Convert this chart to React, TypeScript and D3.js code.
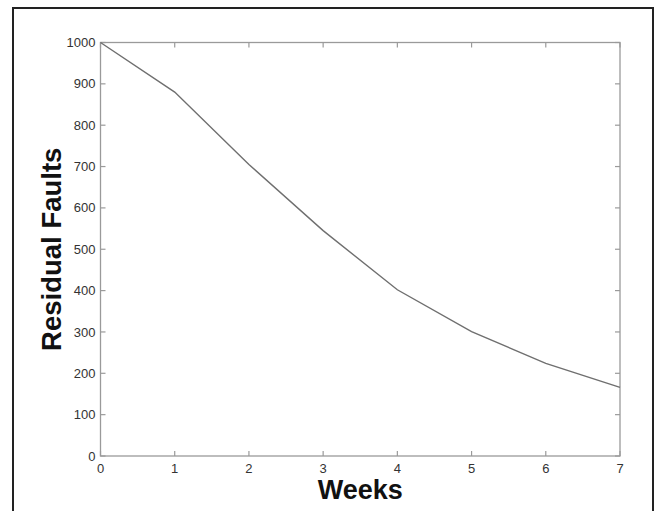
import React from "react";
import * as d3 from "d3";

const weeks = [0, 1, 2, 3, 4, 5, 6, 7];
const residualFaults = [1000, 880, 705, 545, 402, 301, 224, 166];
const yTicks = [0, 100, 200, 300, 400, 500, 600, 700, 800, 900, 1000];
const xTicks = [0, 1, 2, 3, 4, 5, 6, 7];

const W = 655;
const H = 511;
const margin = { left: 100.5, right: 35, top: 42.5, bottom: 55 };

export default function App() {
  const x = d3.scaleLinear().domain([0, 7]).range([margin.left, W - margin.right]);
  const y = d3.scaleLinear().domain([0, 1000]).range([H - margin.bottom, margin.top]);
  const line = d3
    .line<number>()
    .x((_, i) => x(weeks[i]))
    .y((d) => y(d));
  const x0 = x(0), x1 = x(7), y0 = y(0), y1 = y(1000);
  const axisColor = "#9a9a9a";
  const font = "'Liberation Sans', Arial, Helvetica, sans-serif";
  const tl = 5;
  return (
    <svg
      width={W}
      height={H}
      style={{ position: "absolute", left: 0, top: 0, background: "#fff" }}
    >
      <rect x={0} y={0} width={W} height={H} fill="#fff" />
      {/* outer frame */}
      <path d={`M13,${H + 5} L13,8 L653,8 L653,${H + 5}`} fill="none" stroke="#222" strokeWidth={2} />
      {/* plot box */}
      <rect x={x0} y={y1} width={x1 - x0} height={y0 - y1} fill="none" stroke={axisColor} strokeWidth={1.3} />
      {/* y ticks */}
      {yTicks.map((t) => (
        <g key={"y" + t}>
          <line x1={x0} x2={x0 + tl} y1={y(t)} y2={y(t)} stroke={axisColor} strokeWidth={1.2} />
          <line x1={x1} x2={x1 - tl} y1={y(t)} y2={y(t)} stroke={axisColor} strokeWidth={1.2} />
          <text
            x={x0 - 5}
            y={y(t)}
            dy="0.35em"
            textAnchor="end"
            fontFamily={font}
            fontSize={13}
            fill="#333"
          >
            {t}
          </text>
        </g>
      ))}
      {/* x ticks */}
      {xTicks.map((t) => (
        <g key={"x" + t}>
          <line x1={x(t)} x2={x(t)} y1={y0} y2={y0 - tl} stroke={axisColor} strokeWidth={1.2} />
          <line x1={x(t)} x2={x(t)} y1={y1} y2={y1 + tl} stroke={axisColor} strokeWidth={1.2} />
          <text
            x={x(t)}
            y={y0 + 17}
            textAnchor="middle"
            fontFamily={font}
            fontSize={13}
            fill="#333"
          >
            {t}
          </text>
        </g>
      ))}
      {/* data line */}
      <path d={line(residualFaults) || ""} fill="none" stroke="#6f6f6f" strokeWidth={1.4} />
      {/* axis labels */}
      <text
        x={(x0 + x1) / 2}
        y={499}
        textAnchor="middle"
        fontFamily={font}
        fontWeight="bold"
        fontSize={27}
        fill="#111"
      >
        Weeks
      </text>
      <text
        transform={`translate(61,${(y0 + y1) / 2}) rotate(-90)`}
        textAnchor="middle"
        fontFamily={font}
        fontWeight="bold"
        fontSize={27.5}
        fill="#111"
      >
        Residual Faults
      </text>
    </svg>
  );
}
